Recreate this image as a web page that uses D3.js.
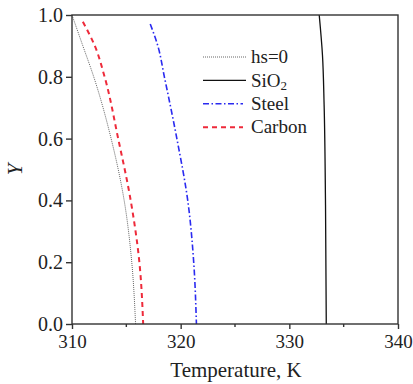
<!DOCTYPE html>
<html>
<head>
<meta charset="utf-8">
<script src="https://cdn.jsdelivr.net/npm/d3@7"></script>
<style>
  body { margin: 0; background: #fff; }
</style>
</head>
<body>
<div id="chart"></div>
<script>
var W = 413, H = 384,
    m = [15, 15, 60, 72]; // top right bottom left
var serif = "'Liberation Serif', 'Times New Roman', serif";

// temperature (K), at the Y values listed with it
var hsY      = [1.0, 0.9, 0.8, 0.6, 0.4, 0.2, 0.0],
    hsT      = [310.0, 311.0, 312.0, 313.6, 314.8, 315.5, 315.85];
var carbonY  = [0.978, 0.9, 0.8, 0.6, 0.4, 0.2, 0.0],
    carbonT  = [311.0, 312.1, 313.0, 314.25, 315.4, 316.2, 316.55];
var steelY   = [0.971, 0.9, 0.8, 0.6, 0.4, 0.2, 0.0],
    steelT   = [317.2, 317.9, 318.5, 319.65, 320.65, 321.2, 321.45];
var sio2Y    = [1.0, 0.87, 0.71, 0.385, 0.0],
    sio2T    = [332.75, 333.05, 333.2, 333.33, 333.4];

var xTicks = [310, 320, 330, 340],
    xMinor = [315, 325, 335],
    yTicks = [0, 0.2, 0.4, 0.6, 0.8, 1.0];

var series = [
  {name: "hs=0",   Y: hsY,     T: hsT,     color: "#666", width: 1,   dash: "1,1"},
  {name: "SiO2",   Y: sio2Y,   T: sio2T,   color: "#111", width: 1.3, dash: null},
  {name: "Steel",  Y: steelY,  T: steelT,  color: "#2a2af0", width: 1.6, dash: "6,2.5,1.5,2.5"},
  {name: "Carbon", Y: carbonY, T: carbonT, color: "#ee2a3a", width: 2, dash: "5,4"}
];

var x = d3.scaleLinear().domain([310, 340]).range([m[3], W - m[1]]),
    y = d3.scaleLinear().domain([0, 1]).range([H - m[2], m[0]]);

var svg = d3.select("#chart").append("svg")
    .attr("width", W)
    .attr("height", H);

// curves
var line = d3.line()
    .x(function(d) { return x(d[0]); })
    .y(function(d) { return y(d[1]); })
    .curve(d3.curveMonotoneY);

svg.selectAll("path.curve")
    .data(series)
  .enter().append("path")
    .attr("class", "curve")
    .attr("fill", "none")
    .attr("stroke", function(d) { return d.color; })
    .attr("stroke-width", function(d) { return d.width; })
    .attr("stroke-dasharray", function(d) { return d.dash; })
    .attr("d", function(d) { return line(d.T.map(function(t, i) { return [t, d.Y[i]]; })); });

// frame
svg.append("rect")
    .attr("x", x(310)).attr("y", y(1))
    .attr("width", x(340) - x(310)).attr("height", y(0) - y(1))
    .attr("fill", "none").attr("stroke", "#333").attr("stroke-width", 1.4);

// axes
var xAxis = svg.append("g")
    .attr("transform", "translate(0," + y(0) + ")")
    .call(d3.axisBottom(x).tickValues(xTicks).tickSize(5).tickPadding(6).tickFormat(d3.format("d")));
xAxis.selectAll(".minor").data(xMinor).enter().append("line")
    .attr("class", "minor")
    .attr("x1", function(d) { return x(d); }).attr("x2", function(d) { return x(d); })
    .attr("y1", 0).attr("y2", 3);
xAxis.selectAll(".tick text").style("font-size", "19px");

var yAxis = svg.append("g")
    .attr("transform", "translate(" + x(310) + ",0)")
    .call(d3.axisLeft(y).tickValues(yTicks).tickSize(6).tickPadding(3).tickFormat(d3.format(".1f")));
yAxis.selectAll(".tick text").style("font-size", "20px");

svg.selectAll(".domain").remove();
svg.selectAll(".tick line, .minor").attr("stroke", "#333").attr("stroke-width", 1.4);
svg.selectAll(".tick text").attr("fill", "#222");

// axis titles
svg.append("text")
    .attr("x", (x(310) + x(340)) / 2 + 1).attr("y", 377)
    .attr("text-anchor", "middle").style("font-size", "21px")
    .text("Temperature, K");

svg.append("text")
    .attr("transform", "translate(22," + y(0.5) + ") rotate(-90)")
    .attr("text-anchor", "middle").style("font-size", "21px").style("font-style", "italic")
    .text("Y");

// legend
var lg = svg.append("g").attr("transform", "translate(203,57)");
var row = lg.selectAll("g").data(series).enter().append("g")
    .attr("transform", function(d, i) { return "translate(0," + i * 23.4 + ")"; });
row.append("line")
    .attr("x1", 0).attr("x2", function(d, i) { return i < 2 ? 43 : 40; })
    .attr("stroke", function(d) { return d.color; })
    .attr("stroke-width", function(d) { return d.width; })
    .attr("stroke-dasharray", function(d) { return d.dash; });
var lt = row.append("text")
    .attr("x", 48).attr("dy", "0.33em").style("font-size", "19px");
lt.each(function(d) {
  var t = d3.select(this);
  if (d.name === "SiO2") {
    t.append("tspan").text("SiO");
    t.append("tspan").style("font-size", "13px").attr("dy", 3).text("2");
  } else {
    t.text(d.name);
  }
});

svg.selectAll("text").style("font-family", serif).attr("fill", "#222");
</script>
</body>
</html>
